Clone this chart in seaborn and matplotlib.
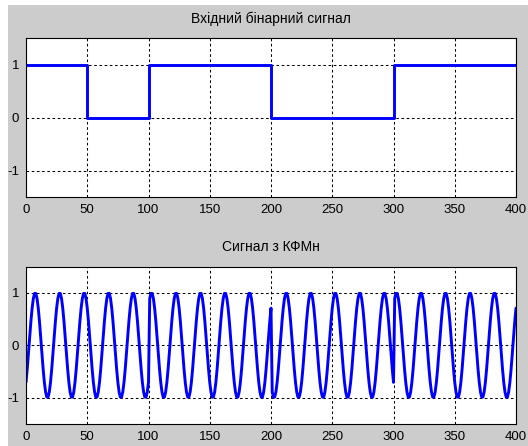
import numpy as np
import pandas as pd
import matplotlib
matplotlib.use("Agg")
import matplotlib.pyplot as plt
from matplotlib.patches import Rectangle
import seaborn as sns

# Input bit stream, each bit held for 50 samples
bits = [1, 0, 1, 1, 0, 0, 1, 1]
bit_len = 50
# Carrier period in samples
carrier_period = 20
# QPSK phase for each dibit (first bit, second bit)
dibit_phase = {(1, 1): np.pi / 4, (1, 0): -np.pi / 4,
               (0, 0): -3 * np.pi / 4, (0, 1): 3 * np.pi / 4}

x_ticks = [0, 50, 100, 150, 200, 250, 300, 350, 400]
y_ticks = [-1, 0, 1]
title_top = "Вхідний бінарний сигнал"
title_bottom = "Сигнал з КФМн"

# Binary signal as step edges
edges = np.arange(len(bits) + 1) * bit_len
levels = bits + [bits[-1]]
df_bits = pd.DataFrame({"n": edges, "b": levels})

# QPSK signal: one symbol (two bits) per 100 samples
sym_len = 2 * bit_len
phases = [dibit_phase[(bits[i], bits[i + 1])] for i in range(0, len(bits), 2)]
n = np.arange(0, len(bits) * bit_len + 1)
sym_idx = np.clip(np.ceil(n / sym_len).astype(int) - 1, 0, len(phases) - 1)
s = np.sin(2 * np.pi * n / carrier_period + np.array(phases)[sym_idx])
df_mod = pd.DataFrame({"n": n, "s": s})

sns.set_theme(style="white")
plt.rcParams["font.family"] = ["Liberation Sans", "DejaVu Sans"]
plt.rcParams["axes.unicode_minus"] = False

W, H = 528, 446
fig = plt.figure(figsize=(W / 100, H / 100), dpi=100, facecolor="white")
fig.patches.append(Rectangle((8 / W, 0), 1, 1 - 5 / H, transform=fig.transFigure,
                             facecolor="#cccccc", edgecolor="none", zorder=-10))

ax1 = fig.add_axes([26 / W, 1 - 197 / H, 490 / W, 159 / H])
ax2 = fig.add_axes([26 / W, 1 - 424 / H, 490 / W, 157.5 / H])

sns.lineplot(data=df_bits, x="n", y="b", ax=ax1, color="#0000ff", linewidth=2.1,
             drawstyle="steps-post", estimator=None, sort=False)
sns.lineplot(data=df_mod, x="n", y="s", ax=ax2, color="#0000ff", linewidth=2.1,
             estimator=None, sort=False)

for ax, title in [(ax1, title_top), (ax2, title_bottom)]:
    ax.set_facecolor("white")
    ax.set_xlim(0, 400)
    ax.set_ylim(-1.5, 1.5)
    ax.set_xticks(x_ticks)
    ax.set_yticks(y_ticks)
    ax.set_xticklabels([str(v) for v in x_ticks])
    ax.set_yticklabels([str(v) for v in y_ticks])
    ax.set_xlabel("")
    ax.set_ylabel("")
    ax.grid(True, color="black", linestyle=(0, (2.5, 2.5)), linewidth=0.75)
    ax.tick_params(length=0, labelsize=9.5, colors="black", pad=5)
    for sp in ax.spines.values():
        sp.set_color("black")
        sp.set_linewidth(0.8)
    ax.set_title(title, fontsize=10, color="black", pad=11)

fig.savefig("out.png", dpi=100, facecolor=fig.get_facecolor())
